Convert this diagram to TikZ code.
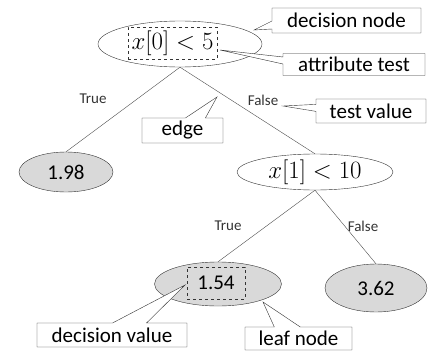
\documentclass[tikz,border=0pt]{standalone}
\usepackage{fontspec}
\setmainfont{Carlito}
\usetikzlibrary{shapes.geometric,shapes.callouts}

\begin{document}
\begin{tikzpicture}
[
	x=1pt,
	y=-1pt,
	treenode/.style={ellipse,draw=black!80,thin,inner sep=0pt},
	leafnode/.style={treenode,fill=black!15},
	testbox/.style={draw=black!80,dashed,thin,inner sep=0pt},
	notebox/.style={rectangle callout,draw=black!80,thin,fill=white,inner sep=0pt,
		font=\fontsize{21}{25}\selectfont},
	branch/.style={draw=black!70,thin},
	branchlabel/.style={font=\fontsize{15}{18}\selectfont,text=black!80}
]

	\useasboundingbox (0,0) rectangle (429,351);

	% tree nodes
	\node[treenode,minimum width=164pt,minimum height=46pt] (root) at (180,44) {};
	\node[testbox,minimum width=89pt,minimum height=32pt] (test0) at (172.5,43)
		{\fontsize{27}{30}\selectfont$x[0]<5$};
	\node[leafnode,minimum width=94pt,minimum height=40pt,font=\fontsize{21}{25}\selectfont]
		(leafA) at (66,172) {1.98};
	\node[treenode,minimum width=156pt,minimum height=36pt] (inner) at (315,172)
		{\fontsize{26}{30}\selectfont$x[1]<10$};
	\node[leafnode,minimum width=127pt,minimum height=44pt] (leafB) at (218,284) {};
	\node[testbox,minimum width=58pt,minimum height=32pt,font=\fontsize{21}{25}\selectfont]
		(value) at (216,283) {1.54};
	\node[leafnode,minimum width=102pt,minimum height=48pt,font=\fontsize{21}{25}\selectfont]
		(leafC) at (376,288) {3.62};

	% edges
	\draw[branch] (root.south) -- (leafA.north);
	\draw[branch] (root.south) -- (inner.north);
	\draw[branch] (inner.south) -- (leafB.north);
	\draw[branch] (inner.south) -- (leafC.north);

	\node[branchlabel] (t0) at (93,99) {True};
	\node[branchlabel] (f0) at (263,100) {False};
	\node[branchlabel] (t1) at (228,226) {True};
	\node[branchlabel] (f1) at (363,226) {False};

	% annotations
	\coordinate (pdec) at (254,30);
	\coordinate (pattr) at (220,50);
	\coordinate (pval) at (283,106);
	\coordinate (pedge) at (217,97);
	\coordinate (pdv) at (185,285);
	\coordinate (pleaf) at (263,302);

	\node[notebox,minimum width=149pt,minimum height=25pt,callout pointer width=8pt,
		callout absolute pointer={(pdec)}] (ndec) at (346.5,20.5) {decision node};
	\node[notebox,minimum width=142pt,minimum height=22pt,callout pointer width=7pt,
		callout absolute pointer={(pattr)}] (nattr) at (354,64.5) {attribute test};
	\node[notebox,minimum width=110pt,minimum height=24pt,callout pointer width=7pt,
		callout absolute pointer={(pval)}] (nval) at (371,111) {test value};
	\node[notebox,minimum width=81pt,minimum height=25pt,callout pointer width=20pt,
		callout absolute pointer={(pedge)}] (nedge) at (182.5,130.5) {edge};
	\node[notebox,minimum width=150pt,minimum height=24pt,callout pointer width=34pt,
		callout absolute pointer={(pdv)}] (ndv) at (112,335) {decision value};
	\node[notebox,minimum width=107pt,minimum height=23pt,callout pointer width=26pt,
		callout absolute pointer={(pleaf)}] (nleaf) at (298.5,338.5) {leaf node};

\end{tikzpicture}
\end{document}
